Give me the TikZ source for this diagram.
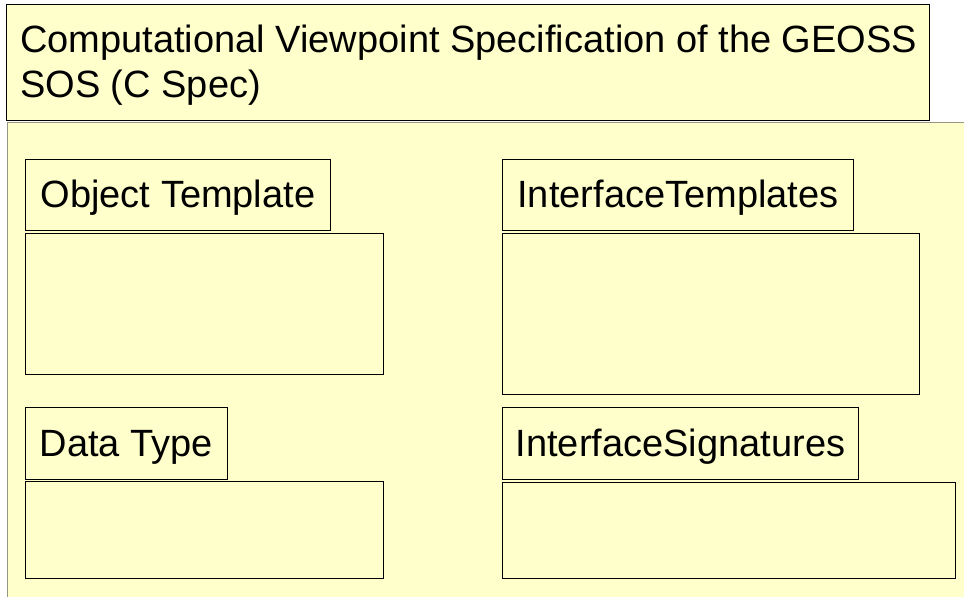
\documentclass[tikz,border=0pt]{standalone}
\usepackage{fontspec}
\setmainfont{Liberation Sans}
\usepackage{xcolor}
\usepackage{tikz}
\definecolor{notepaper}{RGB}{255,255,204}
\definecolor{framegray}{RGB}{150,150,130}
\tikzset{
    boxnode/.style = {rectangle, inner sep=0pt, fill=notepaper, text centered},
    tab_node/.style = {boxnode, draw=black, anchor=north west, line width=0.9pt, text height=28pt, text depth=2pt, font=\fontsize{38}{45}\selectfont},
    body_node/.style = {boxnode, draw=black, anchor=north west, line width=1.2pt},
    frame_node/.style = {boxnode, draw=framegray, anchor=north west, line width=1.2pt},
    title_text/.style = {anchor=base west, inner sep=0pt, font=\fontsize{38}{45}\selectfont}
}
\begin{document}
\begin{tikzpicture}
            [x=1pt, y=-1pt]

            \useasboundingbox (0,0) rectangle (964,597);
            \clip (0,0) rectangle (964,597);
            \fill[white] (0,0) rectangle (964,597);

            \node [frame_node, minimum width=975, minimum height=490] (frame) at (7,122) {};
            \node [tab_node, minimum width=923, minimum height=116] (title) at (6,4) {};
            \node [title_text] (title_a) at (20,52) {Computational Viewpoint Specification of the GEOSS};
            \node [title_text] (title_b) at (20,97) {SOS (C Spec)};

            \node [tab_node, minimum width=305, minimum height=71] (obj_tab) at (25,159) {Object Template};
            \node [body_node, minimum width=358, minimum height=141] (obj_body) at ([yshift=-2pt]obj_tab.south west) {};

            \node [tab_node, minimum width=202, minimum height=72] (dat_tab) at (25,407) {Data Type};
            \node [body_node, minimum width=358, minimum height=97] (dat_body) at ([yshift=-1pt]dat_tab.south west) {};

            \node [tab_node, minimum width=351, minimum height=71] (it_tab) at (502,159) {InterfaceTemplates};
            \node [body_node, minimum width=417, minimum height=161] (it_body) at ([yshift=-2pt]it_tab.south west) {};

            \node [tab_node, minimum width=356, minimum height=72] (is_tab) at (502,407) {InterfaceSignatures};
            \node [body_node, minimum width=453, minimum height=96] (is_body) at ([yshift=-2pt]is_tab.south west) {};
        \end{tikzpicture}
\end{document}
